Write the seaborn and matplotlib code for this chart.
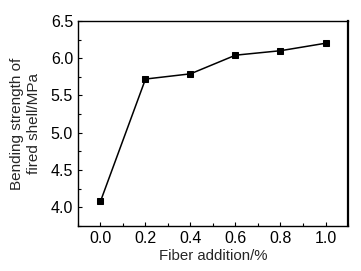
import numpy as np
import pandas as pd
import matplotlib
matplotlib.use("Agg")
import matplotlib.pyplot as plt
import seaborn as sns
from matplotlib.ticker import MultipleLocator, FormatStrFormatter

# Values
fiber_addition = [0.0, 0.2, 0.4, 0.6, 0.8, 1.0]
bending_strength = [4.08, 5.72, 5.79, 6.04, 6.10, 6.20]

data = pd.DataFrame({"fiber": fiber_addition, "strength": bending_strength})

sns.set_style("ticks")
plt.rcParams["font.family"] = ["Liberation Sans", "DejaVu Sans"]

fig = plt.figure(figsize=(3.61, 2.71), dpi=100)
ax = fig.add_axes([0.216, 0.166, 0.748, 0.757])

sns.lineplot(
    x="fiber",
    y="strength",
    data=data,
    marker="s",
    markersize=5,
    markeredgecolor="black",
    color="black",
    linewidth=1.1,
    ax=ax,
)

ax.set_xlim(-0.1, 1.1)
ax.set_ylim(3.75, 6.5)
ax.xaxis.set_major_locator(MultipleLocator(0.2))
ax.xaxis.set_minor_locator(MultipleLocator(0.1))
ax.yaxis.set_major_locator(MultipleLocator(0.5))
ax.yaxis.set_minor_locator(MultipleLocator(0.25))
ax.xaxis.set_major_formatter(FormatStrFormatter("%.1f"))
ax.yaxis.set_major_formatter(FormatStrFormatter("%.1f"))

ax.tick_params(which="both", direction="in", top=False, right=False, colors="black")
ax.tick_params(which="major", length=3, width=0.8, labelsize=11.5, pad=3.5)
ax.tick_params(which="minor", length=2, width=0.8)

for side in ["left", "bottom", "top"]:
    ax.spines[side].set_linewidth(1.0)
    ax.spines[side].set_color("black")
ax.spines["right"].set_linewidth(1.6)
ax.spines["right"].set_color("black")

ax.set_xlabel("Fiber addition/%", fontsize=10.8, labelpad=2)
ax.set_ylabel("Bending strength of\nfired shell/MPa", fontsize=11,
              labelpad=7, linespacing=1.3)

fig.savefig("out.png", dpi=100)
